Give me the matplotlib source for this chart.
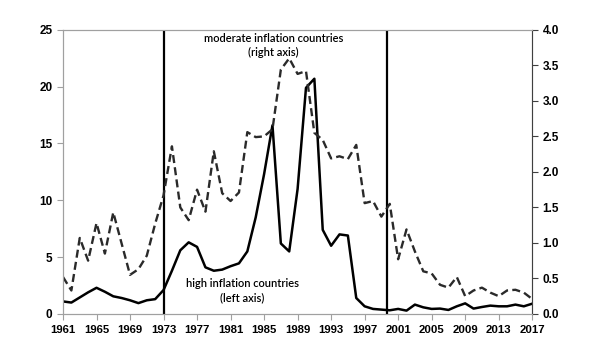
import matplotlib
matplotlib.use('Agg')
import matplotlib.pyplot as plt
from matplotlib.ticker import FormatStrFormatter

years = list(range(1961, 2018))

# high inflation countries, left axis
high = [1.1, 1.0, 1.45, 1.9, 2.3, 1.95, 1.55, 1.4, 1.2, 0.95,
        1.2, 1.3, 2.1, 3.8, 5.6, 6.3, 5.9, 4.1, 3.8, 3.9,
        4.2, 4.45, 5.5, 8.5, 12.3, 16.6, 6.2, 5.5, 11.0, 19.9,
        20.7, 7.4, 6.0, 7.0, 6.9, 1.4, 0.67, 0.44, 0.38, 0.32,
        0.44, 0.29, 0.82, 0.58, 0.44, 0.47, 0.35, 0.67, 0.93, 0.47,
        0.61, 0.73, 0.67, 0.67, 0.82, 0.67, 0.9]

# moderate inflation countries, right axis
moderate = [0.52, 0.33, 1.07, 0.75, 1.28, 0.85, 1.43, 0.99, 0.55, 0.63,
            0.82, 1.27, 1.67, 2.36, 1.5, 1.32, 1.75, 1.44, 2.29, 1.7,
            1.59, 1.71, 2.56, 2.49, 2.5, 2.6, 3.44, 3.6, 3.38, 3.42,
            2.55, 2.45, 2.19, 2.22, 2.18, 2.38, 1.56, 1.59, 1.37, 1.55,
            0.77, 1.19, 0.88, 0.6, 0.57, 0.41, 0.37, 0.52, 0.25, 0.33,
            0.37, 0.3, 0.25, 0.33, 0.34, 0.3, 0.21]

vlines = [1973, 1999.7]
xticks = list(range(1961, 2018, 4))
left_ticks = [0, 5, 10, 15, 20, 25]
right_ticks = [0.0, 0.5, 1.0, 1.5, 2.0, 2.5, 3.0, 3.5, 4.0]


def main() -> None:
    plt.rcParams['font.family'] = ['Liberation Sans', 'DejaVu Sans']
    fig = plt.figure(figsize=(6, 3.6), dpi=100)
    ax = fig.add_axes([0.105, 0.128, 0.782, 0.789])
    ax2 = ax.twinx()

    ax2.plot(years, moderate, color='#2a2a2a', lw=1.7, ls=(0, (3.4, 1.8)))
    ax.plot(years, high, color='black', lw=1.8, zorder=3)
    for v in vlines:
        ax.axvline(v, color='black', lw=1.6, zorder=4)

    ax.set_xlim(1961, 2017)
    ax.set_ylim(0, 25)
    ax2.set_ylim(0, 4)
    ax.set_xticks(xticks)
    ax.set_yticks(left_ticks)
    ax2.set_yticks(right_ticks)
    ax2.yaxis.set_major_formatter(FormatStrFormatter('%.1f'))

    for a in (ax, ax2):
        for s in a.spines.values():
            s.set_color('#a0a0a0')
            s.set_linewidth(0.8)
        a.tick_params(labelsize=8.5, width=0.8, length=4, color='#a0a0a0')
        for lab in a.get_xticklabels() + a.get_yticklabels():
            lab.set_fontweight('bold')
    ax2.spines['right'].set_color('#404040')
    ax2.tick_params(axis='y', color='#404040')
    ax.tick_params(axis='x', pad=4, labelsize=8.2)

    ax.text(1986.1, 23.6, 'moderate inflation countries\n(right axis)',
            ha='center', va='center', fontsize=8, family='Lato',
            fontweight='semibold', linespacing=1.3)
    ax.text(1982.4, 2.05, 'high inflation countries\n(left axis)',
            ha='center', va='center', fontsize=8, family='Lato',
            fontweight='semibold', linespacing=1.3)

    fig.savefig('out.png', dpi=100)
    plt.close(fig)


if __name__ == "__main__":
    main()
